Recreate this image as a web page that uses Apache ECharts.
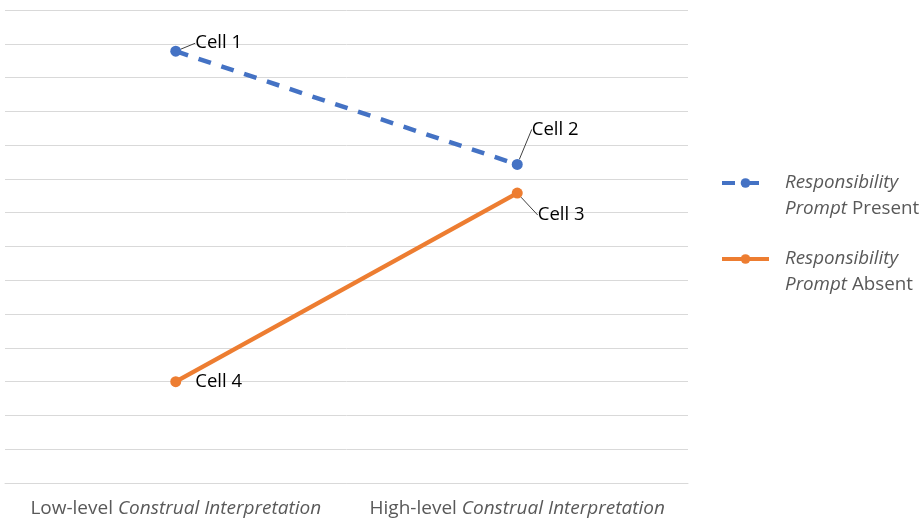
<!DOCTYPE html>
<html><head><meta charset="utf-8">
<script src="https://cdn.jsdelivr.net/npm/echarts@6/dist/echarts.min.js"></script>
<style>html,body{margin:0;padding:0;background:#fff}#c{width:922px;height:523px}</style>
</head><body><div id="c"></div>
<script>
const categories = ['Low-level', 'High-level'];
const categoryItalic = 'Construal Interpretation';
const seriesNames = ['Present', 'Absent'];
const presentValues = [12.78, 9.43];
const absentValues = [3.0, 8.58];
const presentLabels = ['Cell 1', 'Cell 2'];
const absentLabels = ['Cell 4', 'Cell 3'];

const FONT = '"Open Sans", "Noto Sans", sans-serif';
const chart = echarts.init(document.getElementById('c'));
const offsets = {
  '0-0': [9, -8],
  '0-1': [4, -35],
  '1-1': [10, 22],
  '1-0': [9, 0]
};
function mk(values, showLine) {
  return values.map(function (v, i) {
    return {value: v, labelLine: {show: showLine[i]}};
  });
}
chart.setOption({
  animation: false,
  textStyle: {fontFamily: FONT},
  grid: {left: 5, right: 234, top: 10, bottom: 40, containLabel: false},
  legend: {
    orient: 'vertical', left: 720, top: 145, padding: 0,
    itemWidth: 47, itemHeight: 12, itemGap: 0,
    lineStyle: {width: 4},
    formatter: function (n) { return '{i|Responsibility}\n{i|Prompt} ' + n; },
    textStyle: {fontSize: 18.8, color: '#595959', fontFamily: FONT, lineHeight: 25.5, padding: [25, 0, 0, 11],
      rich: {i: {fontStyle: 'italic', fontSize: 18.8, color: '#595959', fontFamily: FONT, lineHeight: 25.5}}}
  },
  xAxis: {
    type: 'category', data: categories, boundaryGap: true,
    axisLine: {show: true, lineStyle: {color: '#d9d9d9'}},
    axisTick: {show: false},
    axisLabel: {
      interval: 0, margin: 16, fontSize: 19, color: '#595959', fontFamily: FONT,
      formatter: function (v) { return v + ' {i|' + categoryItalic + '}'; },
      rich: {i: {fontStyle: 'italic', fontSize: 19, color: '#595959', fontFamily: FONT}}
    }
  },
  yAxis: {
    type: 'value', min: 0, max: 14, interval: 1,
    axisLabel: {show: false}, axisLine: {show: false}, axisTick: {show: false},
    splitLine: {lineStyle: {color: '#d9d9d9', width: 1}}
  },
  labelLayout: function (p) {
    const o = offsets[p.seriesIndex + '-' + p.dataIndex];
    return o ? {dx: o[0], dy: o[1]} : {};
  },
  series: [
    {
      name: seriesNames[0], type: 'line', data: mk(presentValues, [true, true]),
      symbol: 'circle', symbolSize: 11,
      itemStyle: {color: '#4472C4'},
      lineStyle: {color: '#4472C4', width: 4.5, type: [13, 11]},
      label: {show: true, position: 'right', fontSize: 18.5, color: '#000', fontFamily: FONT,
        formatter: function (p) { return presentLabels[p.dataIndex]; }},
      labelLine: {show: true, lineStyle: {color: '#404040', width: 1}}
    },
    {
      name: seriesNames[1], type: 'line', data: mk(absentValues, [false, true]),
      symbol: 'circle', symbolSize: 11,
      itemStyle: {color: '#ED7D31'},
      lineStyle: {color: '#ED7D31', width: 4.5},
      label: {show: true, position: 'right', fontSize: 18.5, color: '#000', fontFamily: FONT,
        formatter: function (p) { return absentLabels[p.dataIndex]; }},
      labelLine: {show: true, lineStyle: {color: '#404040', width: 1}}
    }
  ]
});
</script></body></html>
